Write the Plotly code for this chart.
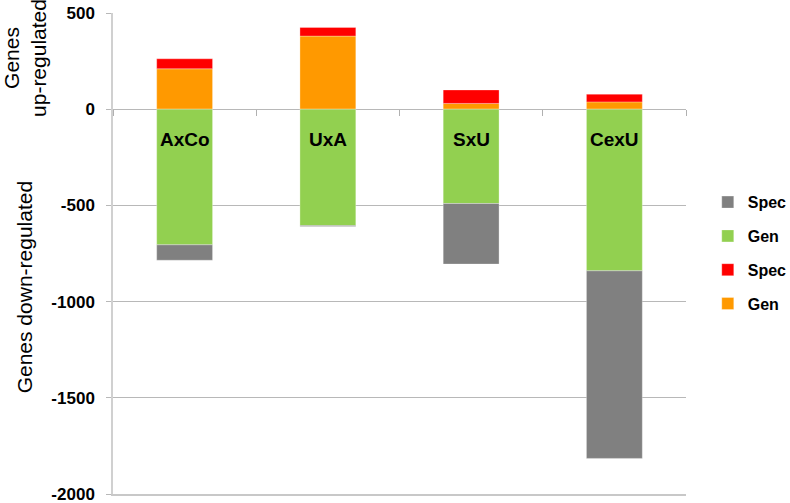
import plotly.graph_objects as go

categories = ["AxCo", "UxA", "SxU", "CexU"]

# up-regulated (positive)
gen_up = [210, 380, 30, 38]
spec_up = [52, 45, 70, 40]
# down-regulated (negative)
gen_down = [-705, -605, -490, -840]
spec_down = [-80, -5, -315, -975]

y_ticks = [500, 0, -500, -1000, -1500, -2000]
y_tick_text = ["500", "0", "-500", "-1000", "-1500", "-2000"]

boundaries = [-0.5, 0.5, 1.5, 2.5, 3.5]

font_family = "Arial, Liberation Sans, sans-serif"

fig = go.Figure()

bar_w = 0.39
fig.add_trace(go.Bar(x=categories, y=gen_up, name="Gen", marker_color="#FF9900",
                     width=bar_w, legendgroup="a", legendrank=4))
fig.add_trace(go.Bar(x=categories, y=spec_up, name="Spec", marker_color="#FF0000",
                     width=bar_w, legendgroup="b", legendrank=3))
fig.add_trace(go.Bar(x=categories, y=gen_down, name="Gen", marker_color="#92D050",
                     width=bar_w, legendgroup="c", legendrank=2))
fig.add_trace(go.Bar(x=categories, y=spec_down, name="Spec", marker_color="#808080",
                     width=bar_w, legendgroup="d", legendrank=1))

for t in fig.data:
    t.marker.line = dict(width=0.6, color="rgba(255,255,255,0.5)")

# category labels inside the green bars
for c in categories:
    fig.add_annotation(x=c, y=-158, text="<b>%s</b>" % c, showarrow=False,
                       font=dict(size=19, color="black", family=font_family),
                       xanchor="center", yanchor="middle")

# axis titles
fig.add_annotation(xref="paper", yref="paper", x=-0.154, y=0.906,
                   text="Genes<br>up-regulated", textangle=-90, showarrow=False,
                   font=dict(size=21, color="black", family=font_family),
                   xanchor="center", yanchor="middle")
fig.add_annotation(xref="paper", yref="paper", x=-0.155, y=0.43,
                   text="Genes down-regulated", textangle=-90, showarrow=False,
                   font=dict(size=21, color="black", family=font_family),
                   xanchor="center", yanchor="middle")

fig.update_layout(
    width=790, height=503,
    barmode="relative",
    plot_bgcolor="white", paper_bgcolor="white",
    margin=dict(l=113, r=104, t=13, b=9, autoexpand=False),
    font=dict(family=font_family, color="black"),
    showlegend=True,
    legend=dict(
        x=1.038, y=0.642, xanchor="left", yanchor="top",
        traceorder="grouped", tracegroupgap=10,
        font=dict(size=16, family=font_family, color="black", weight="bold"),
        itemwidth=30,
    ),
    xaxis=dict(
        range=[-0.5, 3.5], showticklabels=False, showgrid=False,
        showline=True, linecolor="#c8c8c8", linewidth=1.5, ticks="",
        zeroline=False, automargin=False,
    ),
    xaxis2=dict(
        overlaying="x", anchor="free", position=0.8, range=[-0.5, 3.5],
        tickmode="array", tickvals=boundaries, ticks="outside", ticklen=6,
        tickcolor="#b0b0b0", showticklabels=False, showgrid=False,
        showline=False, zeroline=False,
    ),
    yaxis=dict(
        range=[-2000, 500], tickmode="array", tickvals=y_ticks, ticktext=y_tick_text,
        showgrid=True, gridcolor="#b8b8b8", gridwidth=1,
        zeroline=False, automargin=False,
        showline=True, linecolor="#d0d0d0", linewidth=1.5,
        ticks="outside", ticklen=5, tickcolor="#b8b8b8",
        tickfont=dict(size=17, family=font_family, color="black", weight="bold"),
        ticklabelstandoff=8, ticklabeloverflow="allow",
    ),
)

# dummy trace so xaxis2 is drawn
fig.add_trace(go.Scatter(x=[None], y=[None], xaxis="x2", showlegend=False,
                         hoverinfo="skip"))

# page body has a default 8px margin; remove it so the figure fills the window
fig.write_html("out.html", config={"displayModeBar": False},
               post_script="document.body.style.margin='0';")
